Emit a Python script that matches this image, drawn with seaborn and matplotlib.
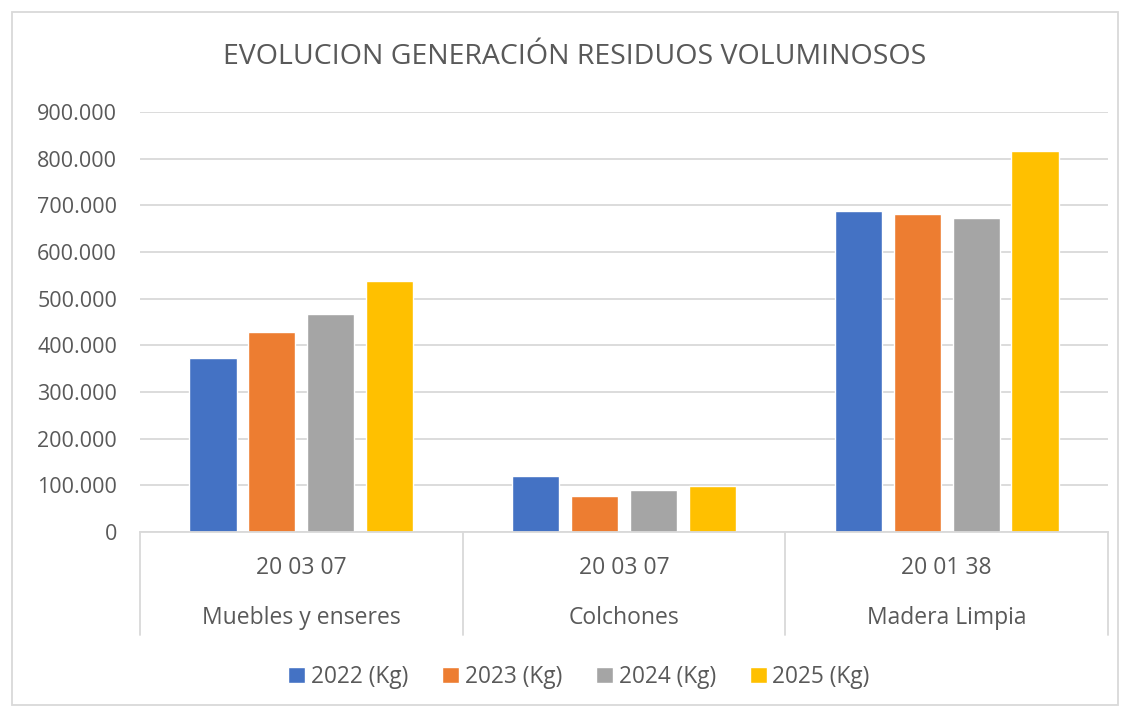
import matplotlib
matplotlib.use("Agg")
import matplotlib.pyplot as plt
import seaborn as sns
import pandas as pd
from matplotlib.ticker import FuncFormatter, MultipleLocator
from matplotlib.patches import Rectangle
from matplotlib.lines import Line2D
import matplotlib.transforms as mtransforms

categories = ["Muebles y enseres", "Colchones", "Madera Limpia"]
codes = ["20 03 07", "20 03 07", "20 01 38"]
series = ["2022 (Kg)", "2023 (Kg)", "2024 (Kg)", "2025 (Kg)"]
v2022 = [372000, 119000, 687000]
v2023 = [428000, 77000, 681000]
v2024 = [468000, 91000, 672000]
v2025 = [537000, 98000, 816000]
colors = ["#4472C4", "#ED7D31", "#A5A5A5", "#FFC000"]
title = "EVOLUCION GENERACIÓN RESIDUOS VOLUMINOSOS"

rows = []
for s, vals in zip(series, [v2022, v2023, v2024, v2025]):
    for c, v in zip(categories, vals):
        rows.append({"cat": c, "serie": s, "val": v})
df = pd.DataFrame(rows)

sns.set_theme(style="white")
plt.rcParams['font.family'] = ['Open Sans', 'DejaVu Sans']
txt = "#595959"
grid = "#D9D9D9"

fig = plt.figure(figsize=(11.3, 7.1), dpi=100)
ax = fig.add_axes([140/1130, 1-532/710, (1108-140)/1130, (532-112)/710])

sns.barplot(data=df, x="cat", y="val", hue="serie", order=categories,
            hue_order=series, palette=colors, width=0.73, gap=0.2,
            ax=ax, legend=True, saturation=1)

ax.set_ylim(0, 900000)
ax.set_xlim(-0.5, 2.5)
ax.yaxis.set_major_locator(MultipleLocator(100000))
ax.yaxis.set_major_formatter(FuncFormatter(
    lambda v, p: "0" if v == 0 else f"{int(v):,}".replace(",", ".")))
ax.tick_params(axis="y", labelsize=15.5, colors=txt, length=0, pad=16.5)
ax.tick_params(axis="x", length=0)
ax.set_xticklabels([])
ax.set_xlabel("")
ax.set_ylabel("")
ax.yaxis.grid(True, color=grid, linewidth=1.3)
ax.set_axisbelow(True)
for sp in ["top", "right", "left"]:
    ax.spines[sp].set_visible(False)
ax.spines["bottom"].set_color(grid)
ax.spines["bottom"].set_linewidth(1.3)

# category separators and labels
trans = mtransforms.blended_transform_factory(ax.transData, ax.transAxes)
axis_h = (532-112)
for b in [-0.5, 0.5, 1.5, 2.5]:
    ax.add_line(Line2D([b, b], [0, -103/axis_h], transform=trans,
                       color=grid, linewidth=1.3, clip_on=False))
for i, (c, code) in enumerate(zip(categories, codes)):
    ax.text(i, -36/axis_h, code, transform=trans, ha="center", va="center",
            fontsize=16.5, color=txt)
    ax.text(i, -86/axis_h, c, transform=trans, ha="center", va="center",
            fontsize=16.5, color=txt)

# legend
handles, labels = ax.get_legend_handles_labels()
ax.get_legend().remove()
fig.legend(handles, labels, loc="center", bbox_to_anchor=(579/1130, 1-677/710),
           ncol=4, frameon=False, fontsize=16.3, labelcolor=txt,
           handlelength=0.75, handleheight=0.75, handletextpad=0.25,
           columnspacing=1.5, borderpad=0)

fig.text(575/1130, 1-57/710, title, ha="center", va="center",
         fontsize=20.5, color=txt)

fig.patches.append(Rectangle((12/1130, 1-705/710), (1118-12)/1130, (705-12)/710,
                             transform=fig.transFigure, fill=False,
                             edgecolor=grid, linewidth=1.3))

fig.savefig("out.png", dpi=100, facecolor="white")
